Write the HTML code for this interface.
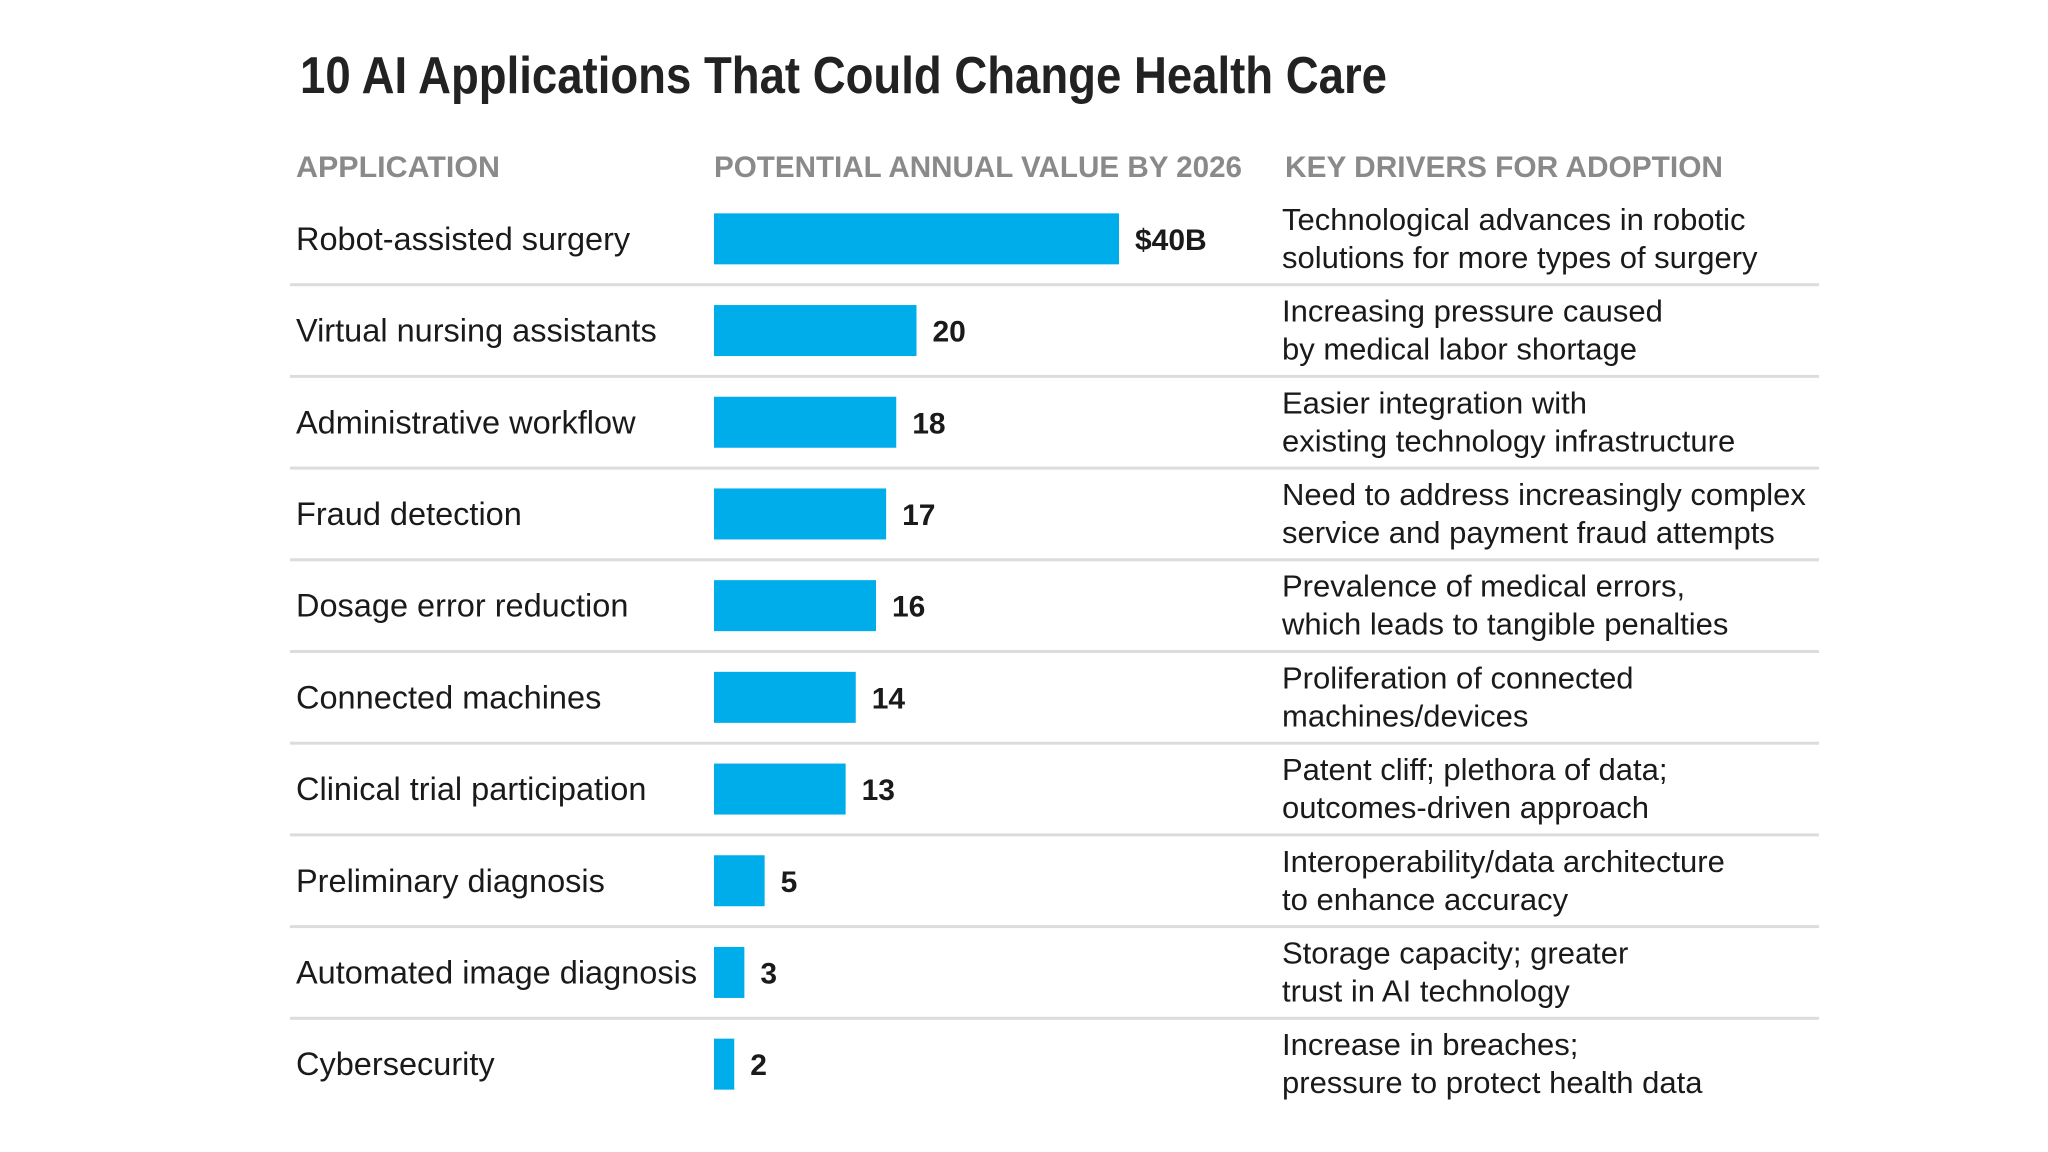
<!DOCTYPE html>
<html><head><meta charset="utf-8"><style>
html,body{margin:0;padding:0;background:#fff;}
svg{display:block;font-family:"Liberation Sans",sans-serif;}
</style></head><body>
<svg id="c" width="2048" height="1152" viewBox="0 0 2048 1152">
<text x="300" y="93" font-size="52" font-weight="bold" fill="#222" textLength="1087" lengthAdjust="spacingAndGlyphs">10 AI Applications That Could Change Health Care</text>
<text x="296" y="177" font-size="30" font-weight="bold" fill="#8a8a8a" textLength="204" lengthAdjust="spacingAndGlyphs">APPLICATION</text>
<text x="714" y="177" font-size="30" font-weight="bold" fill="#8a8a8a" textLength="528" lengthAdjust="spacingAndGlyphs">POTENTIAL ANNUAL VALUE BY 2026</text>
<text x="1285" y="177" font-size="30" font-weight="bold" fill="#8a8a8a" textLength="438" lengthAdjust="spacingAndGlyphs">KEY DRIVERS FOR ADOPTION</text>
<g id="rows"></g>
</svg>
<script>
const categories = ["Robot-assisted surgery","Virtual nursing assistants","Administrative workflow","Fraud detection","Dosage error reduction","Connected machines","Clinical trial participation","Preliminary diagnosis","Automated image diagnosis","Cybersecurity"];
const values = [40,20,18,17,16,14,13,5,3,2];
const valueLabels = ["$40B","20","18","17","16","14","13","5","3","2"];
const drivers = [
 ["Technological advances in robotic","solutions for more types of surgery"],
 ["Increasing pressure caused","by medical labor shortage"],
 ["Easier integration with","existing technology infrastructure"],
 ["Need to address increasingly complex","service and payment fraud attempts"],
 ["Prevalence of medical errors,","which leads to tangible penalties"],
 ["Proliferation of connected","machines/devices"],
 ["Patent cliff; plethora of data;","outcomes-driven approach"],
 ["Interoperability/data architecture","to enhance accuracy"],
 ["Storage capacity; greater","trust in AI technology"],
 ["Increase in breaches;","pressure to protect health data"]
];
const NS="http://www.w3.org/2000/svg";
const g=document.getElementById('rows');
const x0=714, perUnit=405/40, rowTop=193, rowH=91.7, barH=51;
const xs=v=>v*perUnit;
function mk(tag,attrs,text){const e=document.createElementNS(NS,tag);for(const k in attrs)e.setAttribute(k,attrs[k]);if(text!==undefined)e.textContent=text;g.appendChild(e);return e;}
categories.forEach((c,i)=>{
  const cy=rowTop+rowH*i+rowH/2;
  const t=mk('text',{x:296,y:cy+11,'font-size':32.5,fill:'#1a1a1a'},c);
  
  
  const b=mk('rect',{x:x0,y:cy-barH/2,width:xs(values[i]),height:barH,fill:'#00adeb'});
  
  
  const v=mk('text',{x:x0+xs(values[i])+16,y:cy+11,'font-size':30,'font-weight':'bold',fill:'#1a1a1a'},valueLabels[i]);
  
  
  drivers[i].forEach((ln,j)=>{
    const d=mk('text',{x:1282,y:cy-20+11+j*38,'font-size':31,fill:'#1a1a1a'},ln);
    
    
  });
  if(i<categories.length-1){
    const l=mk('rect',{x:290,y:rowTop+rowH*(i+1)-1.5,width:1529,height:3,fill:'#dcdcdc'});
    
    
  }
});
</script>
</body></html>
